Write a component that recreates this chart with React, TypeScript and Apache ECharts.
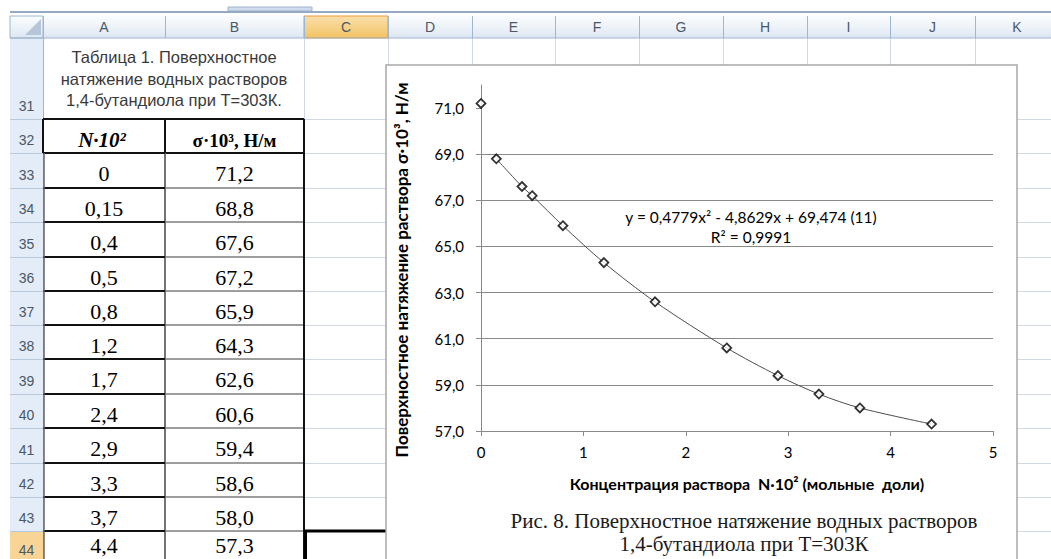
import React, { useEffect, useRef } from 'react';
import * as echarts from 'echarts';

// ---------- data ----------
const concentration = [0, 0.15, 0.4, 0.5, 0.8, 1.2, 1.7, 2.4, 2.9, 3.3, 3.7, 4.4];
const surfaceTension = [71.2, 68.8, 67.6, 67.2, 65.9, 64.3, 62.6, 60.6, 59.4, 58.6, 58.0, 57.3];
const xTickValues = [0, 1, 2, 3, 4, 5];
const yTickValues = [57, 59, 61, 63, 65, 67, 69, 71];
const columnLetters = ['A', 'B', 'C', 'D', 'E', 'F', 'G', 'H', 'I', 'J', 'K'];
const rowNumbers = [31, 32, 33, 34, 35, 36, 37, 38, 39, 40, 41, 42, 43, 44];
const tableTitleLines = ['Таблица 1. Поверхностное', 'натяжение водных растворов', '1,4-бутандиола при Т=303К.'];
const tableHeaders = ['N·10²', 'σ·10³, Н/м'];
const xAxisTitle = 'Концентрация раствора  N·10² (мольные  доли)';
const yAxisTitle = 'Поверхностное натяжение раствора σ·10³, Н/м';
const trendEquation = 'y = 0,4779x² - 4,8629x + 69,474 (11)';
const trendR2 = 'R² = 0,9991';
const captionLines = ['Рис. 8. Поверхностное натяжение водных растворов', '1,4-бутандиола при Т=303К'];

// ---------- layout (sheet decoration) ----------
const COL_EDGES = [43, 165, 304, 388, 472, 555, 639, 723, 807, 890, 975, 1059];
const ROW_EDGES = [38, 119, 153, 188, 222, 257, 291, 325, 359, 394, 428, 463, 497, 531, 566];
const SHEET_FONT = "'Liberation Sans', Arial, sans-serif";
const SERIF = "'Liberation Serif', 'Times New Roman', serif";
const CHART_FONT = "Lato, 'Open Sans', sans-serif";

const fmtComma = (v: number, d?: number) => (d === undefined ? String(v) : v.toFixed(d)).replace('.', ',');

function rect(x: number, y: number, w: number, h: number, style: any, z = -20) {
  return { type: 'rect', shape: { x, y, width: w, height: h }, style, z, silent: true };
}
function seg(x1: number, y1: number, x2: number, y2: number, stroke: string, lineWidth = 1, z = -15) {
  return { type: 'line', shape: { x1, y1, x2, y2 }, style: { stroke, lineWidth }, z, silent: true };
}
function txt(x: number, y: number, text: string, font: any, fill: string, z = -5, extra: any = {}) {
  return {
    type: 'text', x, y, z, silent: true, ...extra,
    style: { text, fill, textAlign: 'center', textVerticalAlign: 'middle', ...font },
  };
}

function buildGraphics() {
  const els: any[] = [];
  const gridColor = '#d0d7e5';
  const hdrBorder = '#9eb6ce';
  // top bar
  els.push(rect(228, 7, 84, 4, { fill: '#cfdcee', stroke: '#9fb3cd', lineWidth: 1 }, -30));
  els.push(rect(10, 11, 1041, 2, { fill: '#95a9c3' }, -30));
  // column header band
  const hdrGrad = { type: 'linear', x: 0, y: 0, x2: 0, y2: 1, colorStops: [
    { offset: 0, color: '#fafcfe' }, { offset: 0.5, color: '#eef3f9' }, { offset: 1, color: '#dce5f1' }] };
  els.push(rect(10, 16, 1041, 22, { fill: hdrGrad }, -30));
  els.push(seg(10, 38, 1051, 38, hdrBorder, 1, -25));
  // selected column C
  const orangeGrad = { type: 'linear', x: 0, y: 0, x2: 0, y2: 1, colorStops: [
    { offset: 0, color: '#fae0ad' }, { offset: 1, color: '#f3c363' }] };
  els.push(rect(COL_EDGES[2], 16, COL_EDGES[3] - COL_EDGES[2], 22, { fill: orangeGrad, stroke: '#f29536', lineWidth: 1 }, -28));
  // column separators + letters
  COL_EDGES.forEach((x, i) => {
    els.push(seg(x + 0.5, 16, x + 0.5, 38, hdrBorder, 1, -26));
    if (i < columnLetters.length) {
      const cx = (x + COL_EDGES[i + 1]) / 2;
      els.push(txt(cx, 27, columnLetters[i], { fontSize: 14, fontFamily: SHEET_FONT }, '#4a5868', -24));
    }
  });
  // corner
  els.push(rect(10, 16, 33, 22, { fill: hdrGrad, stroke: hdrBorder, lineWidth: 1 }, -27));
  els.push({ type: 'polygon', shape: { points: [[41, 19], [41, 35], [25, 35]] }, style: { fill: '#b7c5d8' }, z: -24, silent: true });
  // row header column
  els.push(rect(10, 38, 33, 521, { fill: '#e4ecf7' }, -30));
  els.push(rect(10, ROW_EDGES[13], 33, ROW_EDGES[14] - ROW_EDGES[13], { fill: '#f8d596' }, -29));
  els.push(seg(43.5, 38, 43.5, 559, hdrBorder, 1, -26));
  ROW_EDGES.forEach((y, i) => {
    if (i > 0) els.push(seg(10, y + 0.5, 43, y + 0.5, '#b9c9dd', 1, -26));
    if (i < rowNumbers.length) {
      els.push(txt(26.5, Math.min(ROW_EDGES[i + 1] - 13, 550), String(rowNumbers[i]), { fontSize: 14, fontFamily: SHEET_FONT }, '#4a5868', -24));
    }
  });
  // sheet gridlines
  for (let i = 2; i < COL_EDGES.length; i++) {
    els.push(seg(COL_EDGES[i] + 0.5, 38, COL_EDGES[i] + 0.5, 559, gridColor, 1, -28));
  }
  for (let i = 1; i < ROW_EDGES.length; i++) {
    els.push(seg(COL_EDGES[2], ROW_EDGES[i] + 0.5, 1051, ROW_EDGES[i] + 0.5, gridColor, 1, -28));
  }
  // table title (merged A31:B31)
  tableTitleLines.forEach((line, i) => {
    els.push(txt(174, 57 + i * 21.5, line, { fontSize: 16.5, fontFamily: SHEET_FONT }, '#3a3a3a', -5));
  });
  // table header row
  const aCx = (COL_EDGES[0] + COL_EDGES[1]) / 2;
  const bCx = (COL_EDGES[1] + COL_EDGES[2]) / 2;
  const hdrY = (ROW_EDGES[1] + ROW_EDGES[2]) / 2 + 4;
  els.push(txt(aCx - 2, hdrY, tableHeaders[0], { fontSize: 21, fontFamily: SERIF, fontWeight: 'bold', fontStyle: 'italic' }, '#000', -5));
  els.push(txt(bCx, hdrY, tableHeaders[1], { fontSize: 19, fontFamily: SERIF, fontWeight: 'bold' }, '#000', -5));
  // table values
  concentration.forEach((xv, i) => {
    const top = ROW_EDGES[i + 2];
    const bot = ROW_EDGES[i + 3];
    const cy = Math.min((top + bot) / 2 + 3, 545);
    els.push(txt(aCx, cy, fmtComma(xv), { fontSize: 22, fontFamily: SERIF }, '#000', -5));
    els.push(txt(bCx, cy, fmtComma(surfaceTension[i], 1), { fontSize: 22, fontFamily: SERIF }, '#000', -5));
  });
  // table borders
  for (let r = 1; r < ROW_EDGES.length; r++) {
    const y = ROW_EDGES[r];
    const isHeader = r <= 2;
    els.push(seg(COL_EDGES[0], y, COL_EDGES[1], y, '#111', 2, -12));
    els.push(seg(COL_EDGES[1], y, COL_EDGES[2], y, isHeader ? '#111' : '#7d7d7d', isHeader ? 2 : 1.5, -13));
  }
  els.push(seg(COL_EDGES[0], ROW_EDGES[1], COL_EDGES[0], ROW_EDGES[2], '#111', 2, -12));
  els.push(seg(COL_EDGES[0] + 1, ROW_EDGES[2], COL_EDGES[0] + 1, 559, '#666', 1.5, -12));
  els.push(seg(COL_EDGES[1], ROW_EDGES[1], COL_EDGES[1], ROW_EDGES[2], '#111', 2, -12));
  els.push(seg(COL_EDGES[1], ROW_EDGES[2], COL_EDGES[1], 559, '#747474', 2, -13));
  els.push(seg(COL_EDGES[2], ROW_EDGES[1], COL_EDGES[2], 559, '#111', 2, -12));
  // active cell C44
  els.push(seg(COL_EDGES[2], ROW_EDGES[13], 387, ROW_EDGES[13], '#000', 3, -11));
  els.push(seg(COL_EDGES[2] + 1.5, ROW_EDGES[13], COL_EDGES[2] + 1.5, 559, '#000', 3, -11));
  // chart area
  els.push(rect(386, 65, 631, 520, { fill: '#ffffff', stroke: '#a8a8a8', lineWidth: 1.5 }, -10));
  // chart texts
  els.push(txt(747, 483, xAxisTitle, { fontSize: 16, fontFamily: CHART_FONT, fontWeight: 'bold' }, '#000', 10));
  els.push(txt(401, 270, yAxisTitle, { fontSize: 17, fontFamily: CHART_FONT, fontWeight: 'bold' }, '#000', 10, { rotation: Math.PI / 2 }));
  els.push(txt(751, 217, trendEquation, { fontSize: 15.5, fontFamily: CHART_FONT }, '#000', 10));
  els.push(txt(751, 237, trendR2, { fontSize: 15.5, fontFamily: CHART_FONT }, '#000', 10));
  captionLines.forEach((line, i) => {
    els.push(txt(744, 521 + i * 23, line, { fontSize: 21, fontFamily: SERIF }, '#1a1a1a', 10));
  });
  return els;
}

export default function App() {
  const ref = useRef<HTMLDivElement>(null);
  useEffect(() => {
    if (!ref.current) return;
    const chart = echarts.init(ref.current, undefined, { renderer: 'svg' });
    const points = concentration.map((x, i) => [x, surfaceTension[i]]);
    const axisGray = '#898989';
    chart.setOption({
      animation: false,
      backgroundColor: '#ffffff',
      grid: { left: 481, top: 85, width: 512, height: 346, containLabel: false, outerBoundsMode: 'none' },
      xAxis: {
        type: 'value', min: xTickValues[0], max: xTickValues[xTickValues.length - 1], interval: 1,
        axisLine: { show: true, lineStyle: { color: axisGray, width: 1 } },
        axisTick: { show: true, length: 5, lineStyle: { color: axisGray } },
        axisLabel: { margin: 13, fontSize: 15, fontFamily: CHART_FONT, color: '#000' },
        splitLine: { show: false },
      },
      yAxis: {
        type: 'value', min: 57, max: 72, interval: 2,
        axisLine: { show: true, lineStyle: { color: axisGray, width: 1 } },
        axisTick: { show: true, length: 5, lineStyle: { color: axisGray }, customValues: yTickValues },
        axisLabel: {
          margin: 17, fontSize: 15, fontFamily: CHART_FONT, color: '#000',
          customValues: yTickValues, formatter: (v: number) => fmtComma(v, 1),
        },
        splitLine: { show: true, showMaxLine: false, lineStyle: { color: axisGray, width: 1 } },
      },
      graphic: { elements: buildGraphics() },
      series: [
        {
          type: 'line', data: points.slice(1), smooth: 0.3, showSymbol: false, symbol: 'none',
          lineStyle: { color: '#4d4d4d', width: 1 }, z: 2, silent: true,
        },
        {
          type: 'scatter', data: points, symbol: 'diamond', symbolSize: 9,
          itemStyle: { color: '#ffffff', borderColor: '#000000', borderWidth: 1.8 }, z: 3,
        },
      ],
    });
    return () => chart.dispose();
  }, []);
  return <div ref={ref} style={{ position: 'absolute', left: 0, top: 0, width: 1051, height: 559 }} />;
}
